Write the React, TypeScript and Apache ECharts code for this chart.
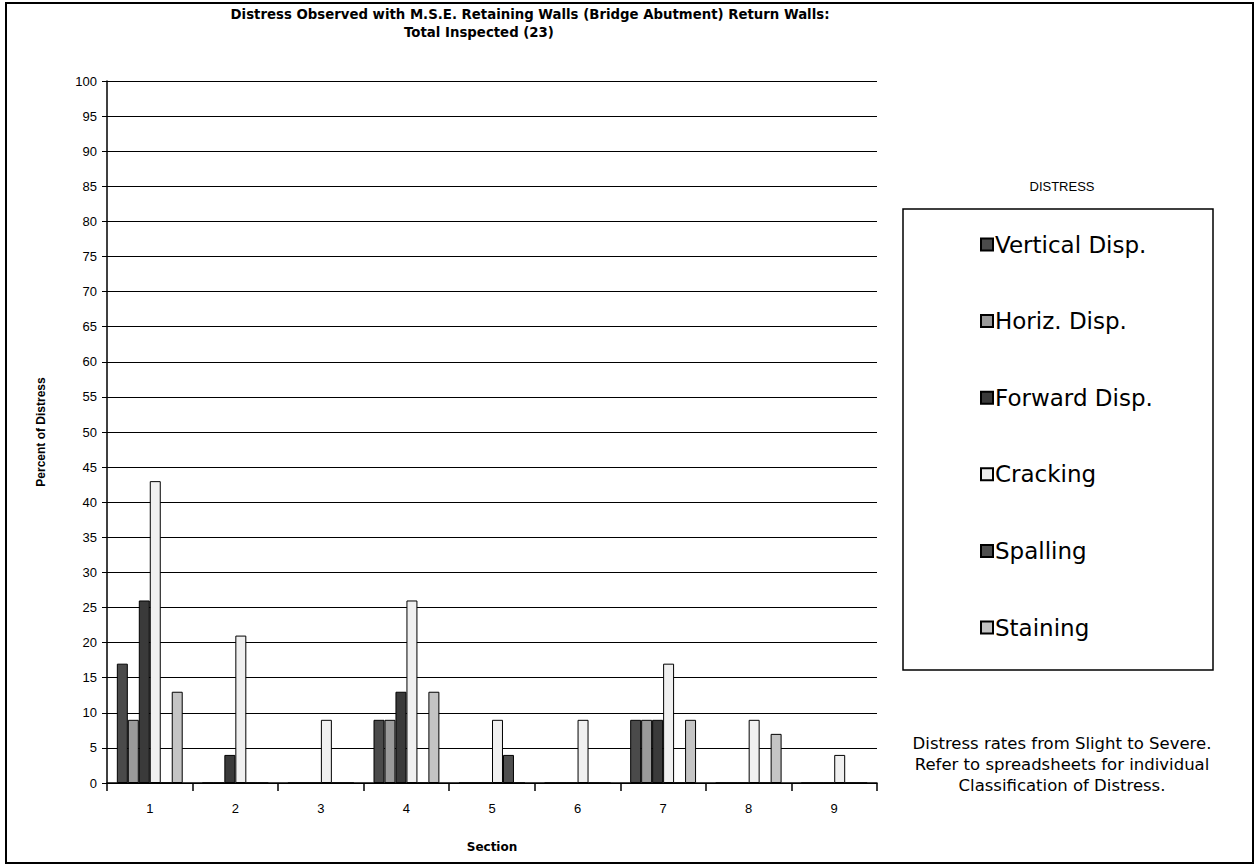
import React, { useEffect, useRef } from "react";
import * as echarts from "echarts";

const sections = ["1", "2", "3", "4", "5", "6", "7", "8", "9"];
const verticalDisp = [17, 0, 0, 9, 0, 0, 9, 0, 0];
const horizDisp = [9, 0, 0, 9, 0, 0, 9, 0, 0];
const forwardDisp = [26, 4, 0, 13, 0, 0, 9, 0, 0];
const cracking = [43, 21, 9, 26, 9, 9, 17, 9, 4];
const spalling = [0, 0, 0, 0, 4, 0, 0, 0, 0];
const staining = [13, 0, 0, 13, 0, 0, 9, 7, 0];
const seriesNames = ["Vertical Disp.", "Horiz. Disp.", "Forward Disp.", "Cracking", "Spalling", "Staining"];
const seriesColors = ["#4a4a4a", "#9a9a9a", "#3a3a3a", "#f0f0f0", "#4f4f4f", "#c4c4c4"];
const titleLines = [
  "Distress Observed with M.S.E. Retaining Walls (Bridge Abutment) Return Walls:",
  "Total Inspected (23)",
];
const noteLines = [
  "Distress rates from Slight to Severe.",
  "Refer to spreadsheets for individual",
  "Classification of Distress.",
];

const FONT = "Liberation Sans, Arial, sans-serif";
const WIDE = "DejaVu Sans, sans-serif";

export default function App() {
  const ref = useRef<HTMLDivElement>(null);
  useEffect(() => {
    if (!ref.current) return;
    const chart = echarts.init(ref.current, null, { renderer: "svg" });
    const data = [verticalDisp, horizDisp, forwardDisp, cracking, spalling, staining];
    chart.setOption({
      animation: false,
      backgroundColor: "#ffffff",
      textStyle: { fontFamily: FONT },
      legend: {
        orient: "vertical",
        left: 980,
        top: 233,
        padding: 0,
        itemWidth: 12,
        itemHeight: 12,
        itemGap: 53.6,
        icon: "rect",
        textStyle: { fontFamily: WIDE, fontSize: 23, color: "#000", padding: [0, 0, 0, -3] },
        data: seriesNames,
      },
      grid: { left: 107, right: 380, top: 81, bottom: 84, containLabel: false },
      xAxis: {
        type: "category",
        data: sections,
        name: "Section",
        nameLocation: "middle",
        nameGap: 58,
        nameTextStyle: { fontFamily: WIDE, fontSize: 12, fontWeight: "bold", color: "#000" },
        axisLine: { lineStyle: { color: "#000", width: 1.5 } },
        axisTick: { show: true, length: 8, lineStyle: { color: "#000", width: 1.5 } },
        axisLabel: { fontFamily: FONT, fontSize: 13, color: "#000", margin: 19 },
      },
      yAxis: {
        type: "value",
        min: 0,
        max: 100,
        interval: 5,
        name: "Percent of Distress",
        nameLocation: "middle",
        nameGap: 60,
        nameTextStyle: { fontFamily: FONT, fontSize: 12, fontWeight: "bold", color: "#000" },
        axisLine: { show: true, lineStyle: { color: "#000", width: 1.5 } },
        axisTick: { show: true, length: 5, lineStyle: { color: "#000" } },
        axisLabel: { fontFamily: FONT, fontSize: 13, color: "#000", margin: 10 },
        splitLine: { lineStyle: { color: "#000", width: 1.2 } },
      },
      series: seriesNames.map((name, i) => ({
        name,
        type: "bar",
        data: data[i],
        barGap: "0%",
        barCategoryGap: "23%",
        itemStyle: {
          color: seriesColors[i],
          borderColor: "#000",
          borderWidth: 1,
        },
      })),
      graphic: [
        {
          type: "rect",
          shape: { x: 6, y: 3, width: 1247, height: 860 },
          style: { fill: "none", stroke: "#000", lineWidth: 2 },
          silent: true,
        },
        {
          type: "rect",
          shape: { x: 903, y: 209, width: 310, height: 461 },
          style: { fill: "none", stroke: "#000", lineWidth: 1.5 },
          silent: true,
          z: -1,
        },
        {
          type: "text",
          x: 530,
          y: 14,
          style: { text: titleLines[0], font: "bold 13.3px " + WIDE, fill: "#000", textAlign: "center", textVerticalAlign: "middle" },
        },
        {
          type: "text",
          x: 479,
          y: 32,
          style: { text: titleLines[1], font: "bold 13.3px " + WIDE, fill: "#000", textAlign: "center", textVerticalAlign: "middle" },
        },
        {
          type: "text",
          x: 1062,
          y: 186,
          style: { text: "DISTRESS", font: "13px " + FONT, fill: "#000", textAlign: "center", textVerticalAlign: "middle" },
        },
        ...noteLines.map((t, i) => ({
          type: "text",
          x: 1062,
          y: 743 + i * 21,
          style: { text: t, font: "16.5px " + WIDE, fill: "#000", textAlign: "center", textVerticalAlign: "middle" },
        })),
      ],
    });
    return () => chart.dispose();
  }, []);
  return (
    <div
      ref={ref}
      style={{ position: "fixed", left: 0, top: 0, width: 1257, height: 867 }}
    />
  );
}
